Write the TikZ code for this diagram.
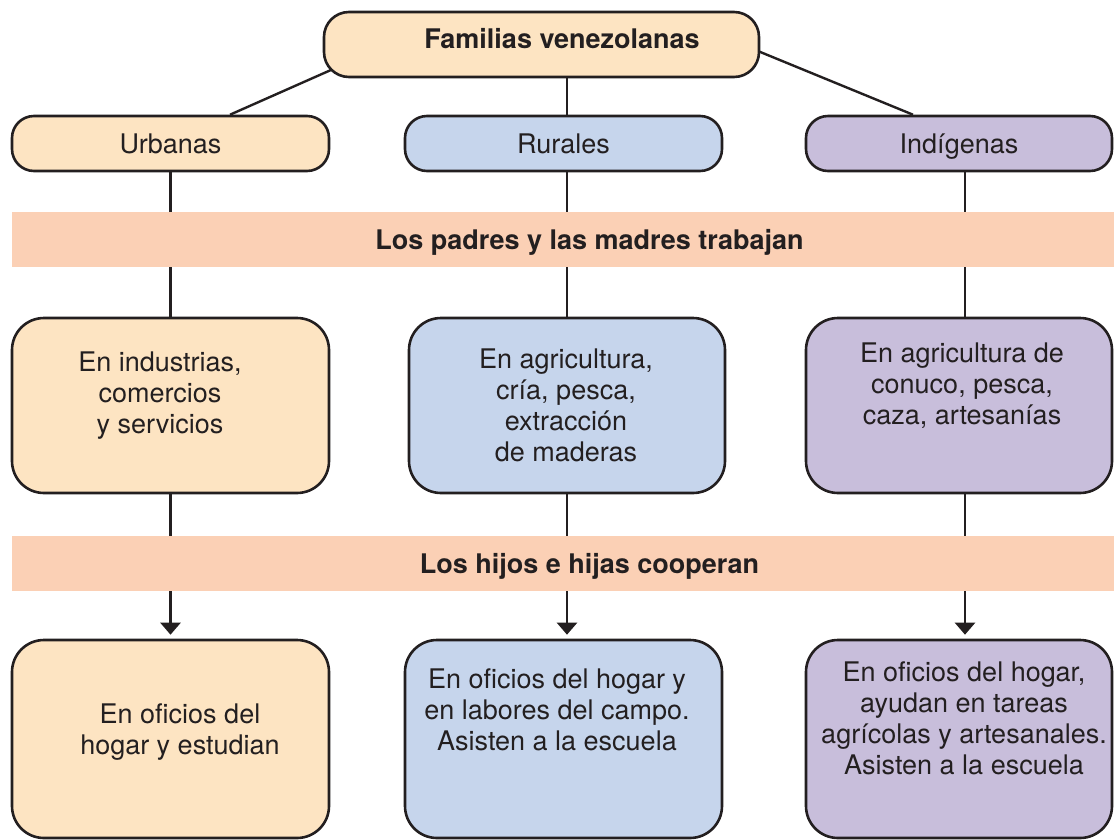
\documentclass[tikz,border=0pt]{standalone}
\usepackage{fontspec}
\setmainfont{TeX Gyre Heros}
\usetikzlibrary{arrows.meta,backgrounds}

\definecolor{ink}{HTML}{231F20}
\definecolor{tanFill}{HTML}{FDE4C2}
\definecolor{blueFill}{HTML}{C6D5EC}
\definecolor{lilacFill}{HTML}{C8BEDB}
\definecolor{bandFill}{HTML}{FBD0B5}

\tikzset{
  txt/.style={font=\fontsize{27}{31}\selectfont, text=ink, inner sep=0pt},
  box/.style={draw=ink, line width=2.6pt, inner sep=0pt},
  head/.style={box, txt, rounded corners=22pt, minimum width=317pt, minimum height=55pt,
    text height=19pt, text depth=0pt},
  block/.style={box, rounded corners=32pt, minimum width=#1},
  band/.style={txt, fill=bandFill, font=\fontsize{27}{31}\selectfont\bfseries,
    minimum width=1155pt, minimum height=55pt, text height=19pt, text depth=0pt},
  link/.style={draw=ink, line width=2.4pt},
  arrow/.style={link, -{Triangle[width=20pt,length=12pt]}, shorten >=4pt}
}

\begin{document}
\begin{tikzpicture}[x=1pt, y=-1pt]
                \useasboundingbox (0,0) rectangle (1114,839);

                % Top box
                \node[box, fill=tanFill, rounded corners=25pt, minimum width=435pt, minimum height=65pt] (fam) at (541.5,44.5) {};
                \node[txt, font=\fontsize{27}{31}\selectfont\bfseries, anchor=base] (famTxt) at (562,48) {Familias venezolanas};

                % Kinds of families
                \node[head, fill=tanFill] (urb) at (170.5,143.5) {Urbanas};
                \node[head, fill=blueFill] (rur) at (563.5,143.5) {Rurales};
                \node[head, fill=lilacFill, minimum width=306pt] (ind) at (959,143.5) {Indígenas};

                % Bands
                \node[band] (padres) at (589.5,239.5) {Los padres y las madres trabajan};
                \node[band] (hijos) at (589.5,563.5) {Los hijos e hijas cooperan};

                % What the parents do
                \node[block=317pt, fill=tanFill, minimum height=175pt] (urbTrab) at (170.5,405.5) {};
                \node[block=316pt, fill=blueFill, minimum height=175pt] (rurTrab) at (567,405.5) {};
                \node[block=306pt, fill=lilacFill, minimum height=175pt] (indTrab) at (959,405.5) {};
                \node[txt, align=center, anchor=north] (urbTrabTxt) at (160,352) {En industrias,\\comercios\\y servicios};
                \node[txt, align=center, anchor=north] (rurTrabTxt) at (566,349) {En agricultura,\\cría, pesca,\\extracción\\de maderas};
                \node[txt, align=center, anchor=north] (indTrabTxt) at (962,343) {En agricultura de\\conuco, pesca,\\caza, artesanías};

                % What the children do
                \node[block=317pt, fill=tanFill, minimum height=198pt] (urbHij) at (170.5,739) {};
                \node[block=317pt, fill=blueFill, minimum height=198pt] (rurHij) at (563.5,739) {};
                \node[block=306pt, fill=lilacFill, minimum height=198pt] (indHij) at (959,739) {};
                \node[txt, align=center, anchor=north] (urbHijTxt) at (180,704) {En oficios del\\hogar y estudian};
                \node[txt, align=center, anchor=north] (rurHijTxt) at (557,669) {En oficios del hogar y\\en labores del campo.\\Asisten a la escuela};
                \node[txt, align=center, anchor=north] (indHijTxt) at (964,662) {En oficios del hogar,\\ayudan en tareas\\agrícolas y artesanales.\\Asisten a la escuela};

                % Connectors
                \begin{scope}[on background layer]
                    \draw[link] ([xshift=59.5pt]urb.north) -- ([xshift=-153pt]fam.center);
                    \draw[link] ([xshift=-46pt]ind.north) -- ([xshift=200.5pt]fam.center);
                    \draw[arrow] (urb.south) -- (urbHij.north);
                    \draw[arrow] (rurTrab.north |- fam.center) -- (rurTrab.south |- rurHij.north);
                    \draw[arrow] ([xshift=6pt]ind.south) -- ([xshift=6pt]indHij.north);
                \end{scope}
            \end{tikzpicture}
\end{document}
